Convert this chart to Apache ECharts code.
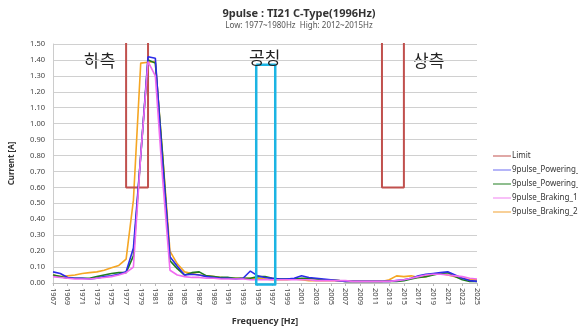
<!DOCTYPE html>
<html><head><meta charset="utf-8">
<script src="https://cdn.jsdelivr.net/npm/echarts@6/dist/echarts.min.js"></script>
<style>html,body{margin:0;padding:0;background:#fff}#c{width:578px;height:331px}</style>
</head><body><div id="c"></div>
<script>
const categories = [];
for (let f = 1967; f <= 2025; f++) categories.push(String(f));

const powering1 = [0.07,0.06,0.035,0.03,0.03,0.025,0.03,0.04,0.045,0.055,0.07,0.22,0.8,1.42,1.41,0.75,0.165,0.105,0.05,0.055,0.05,0.04,0.035,0.03,0.03,0.025,0.03,0.075,0.045,0.035,0.03,0.025,0.025,0.03,0.045,0.035,0.03,0.025,0.02,0.015,0.01,0.01,0.01,0.01,0.01,0.01,0.01,0.015,0.02,0.03,0.045,0.055,0.06,0.065,0.07,0.05,0.03,0.015,0.01];
const powering2 = [0.05,0.04,0.03,0.03,0.03,0.03,0.04,0.05,0.06,0.065,0.065,0.17,0.8,1.40,1.38,0.8,0.14,0.09,0.05,0.065,0.07,0.045,0.04,0.035,0.035,0.03,0.03,0.03,0.04,0.04,0.03,0.025,0.025,0.025,0.03,0.03,0.025,0.02,0.02,0.015,0.01,0.01,0.01,0.01,0.01,0.01,0.01,0.01,0.015,0.025,0.035,0.04,0.05,0.06,0.065,0.04,0.02,0.01,0.01];
const braking1 = [0.04,0.035,0.03,0.025,0.025,0.025,0.03,0.035,0.04,0.05,0.065,0.10,0.8,1.39,1.30,0.65,0.08,0.05,0.04,0.035,0.035,0.03,0.03,0.025,0.025,0.025,0.025,0.02,0.02,0.02,0.02,0.02,0.02,0.02,0.02,0.02,0.015,0.015,0.015,0.015,0.015,0.01,0.01,0.01,0.01,0.01,0.01,0.015,0.02,0.03,0.04,0.05,0.055,0.055,0.05,0.045,0.04,0.03,0.025];
const braking2 = [0.05,0.04,0.045,0.05,0.06,0.065,0.07,0.08,0.095,0.11,0.15,0.52,1.38,1.385,1.39,0.8,0.2,0.12,0.07,0.06,0.05,0.045,0.04,0.035,0.03,0.03,0.03,0.03,0.03,0.025,0.02,0.02,0.02,0.025,0.02,0.015,0.015,0.015,0.015,0.015,0.01,0.01,0.01,0.01,0.01,0.01,0.02,0.045,0.04,0.045,0.035,0.04,0.055,0.06,0.05,0.04,0.03,0.02,0.02];

// Limit rectangles (value-axis frequency, current); 9 = off-scale high
const limitFreq = [1967,1977,1977,1980,1980,2012,2012,2015,2015,2025];
const limitVal  = [9,9,0.6,0.6,9,9,0.6,0.6,9,9];
// Nominal (공칭) highlight box
const nominalFreq = [1994.8,1997.4,1997.4,1994.8,1994.8];
const nominalVal  = [1.37,1.37,-0.01,-0.01,1.37];

const yTicks = {min:0, max:1.5, interval:0.1};

const chart = echarts.init(document.getElementById('c'), null, {renderer:'canvas'});
const font = '"Noto Sans", "Open Sans", sans-serif';
const kfont = '"Noto Sans CJK KR", sans-serif';
chart.setOption({
  animation:false,
  textStyle:{fontFamily:font},
  title:{
    text:'9pulse : TI21 C-Type(1996Hz)',
    subtext:'Low: 1977~1980Hz  High: 2012~2015Hz',
    left:294, top:3, textAlign:'center', itemGap:3,
    textStyle:{fontSize:11, fontWeight:'bold', color:'#333', fontFamily:font},
    subtextStyle:{fontSize:8, color:'#555', fontFamily:font}
  },
  grid:{left:51, right:101, top:44, bottom:44, containLabel:false},
  legend:{
    orient:'vertical', left:488, top:147, itemWidth:18, itemHeight:8, itemGap:6,
    textStyle:{fontSize:8, color:'#333', fontFamily:font, padding:[0,0,0,-4]},
    icon:'path://M0,4 L18,4 L18,5 L0,5 Z',
    data:['Limit','9pulse_Powering_1','9pulse_Powering_2','9pulse_Braking_1','9pulse_Braking_2']
  },
  xAxis:[{
    type:'category', data:categories, boundaryGap:false,
    name:'Frequency [Hz]', nameLocation:'middle', nameGap:34,
    nameTextStyle:{fontSize:9, fontWeight:'bold', color:'#333'},
    axisLine:{lineStyle:{color:'#bbb'}},
    axisTick:{interval:1, length:3, lineStyle:{color:'#bbb'}},
    axisLabel:{interval:1, rotate:-90, fontSize:7.5, color:'#444', margin:5},
    splitLine:{show:false}
  },{
    type:'value', min:1967, max:2025, show:false
  }],
  yAxis:{
    type:'value', min:yTicks.min, max:yTicks.max, interval:yTicks.interval,
    name:'Current [A]', nameLocation:'middle', nameGap:37, nameRotate:90,
    nameTextStyle:{fontSize:8, fontWeight:'bold', color:'#333'},
    axisLine:{show:true, lineStyle:{color:'#ccc'}},
    axisTick:{show:false},
    axisLabel:{fontSize:7.5, color:'#444', margin:8, formatter:v=>v.toFixed(2)},
    splitLine:{lineStyle:{color:'#d0d0d0', width:1}}
  },
  series:[
    {name:'Limit', type:'line', xAxisIndex:1, symbol:'none', lineStyle:{color:'#c0504d', width:2}, itemStyle:{color:'#c0504d'},
     data:limitFreq.map((f,i)=>[f,limitVal[i]]), z:3},
    {name:'9pulse_Powering_1', type:'line', symbol:'none', data:powering1, lineStyle:{color:'#2b2be8', width:1.6}, itemStyle:{color:'#6a6af0'}, z:4},
    {name:'9pulse_Powering_2', type:'line', symbol:'none', data:powering2, lineStyle:{color:'#1e7d1e', width:1.6}, itemStyle:{color:'#1e7d1e'}, z:3},
    {name:'9pulse_Braking_1', type:'line', symbol:'none', data:braking1, lineStyle:{color:'#f06cf0', width:1.6}, itemStyle:{color:'#f080f0'}, z:5},
    {name:'9pulse_Braking_2', type:'line', symbol:'none', data:braking2, lineStyle:{color:'#f5a623', width:1.6}, itemStyle:{color:'#f0a030'}, z:2},
    {name:'nominal', type:'line', xAxisIndex:1, symbol:'none', clip:false, lineStyle:{color:'#1cb4e3', width:2.5, join:'round'},
     data:nominalFreq.map((f,i)=>[f,nominalVal[i]]), z:6}
  ],
  graphic:[
    {type:'text', left:84, top:52, style:{text:'하측', font:'17px '+kfont, fill:'#222'}},
    {type:'text', left:249, top:49, style:{text:'공칭', font:'17px '+kfont, fill:'#222'}, z:10},
    {type:'text', left:413, top:52, style:{text:'상측', font:'17px '+kfont, fill:'#222'}}
  ]
});
</script></body></html>
